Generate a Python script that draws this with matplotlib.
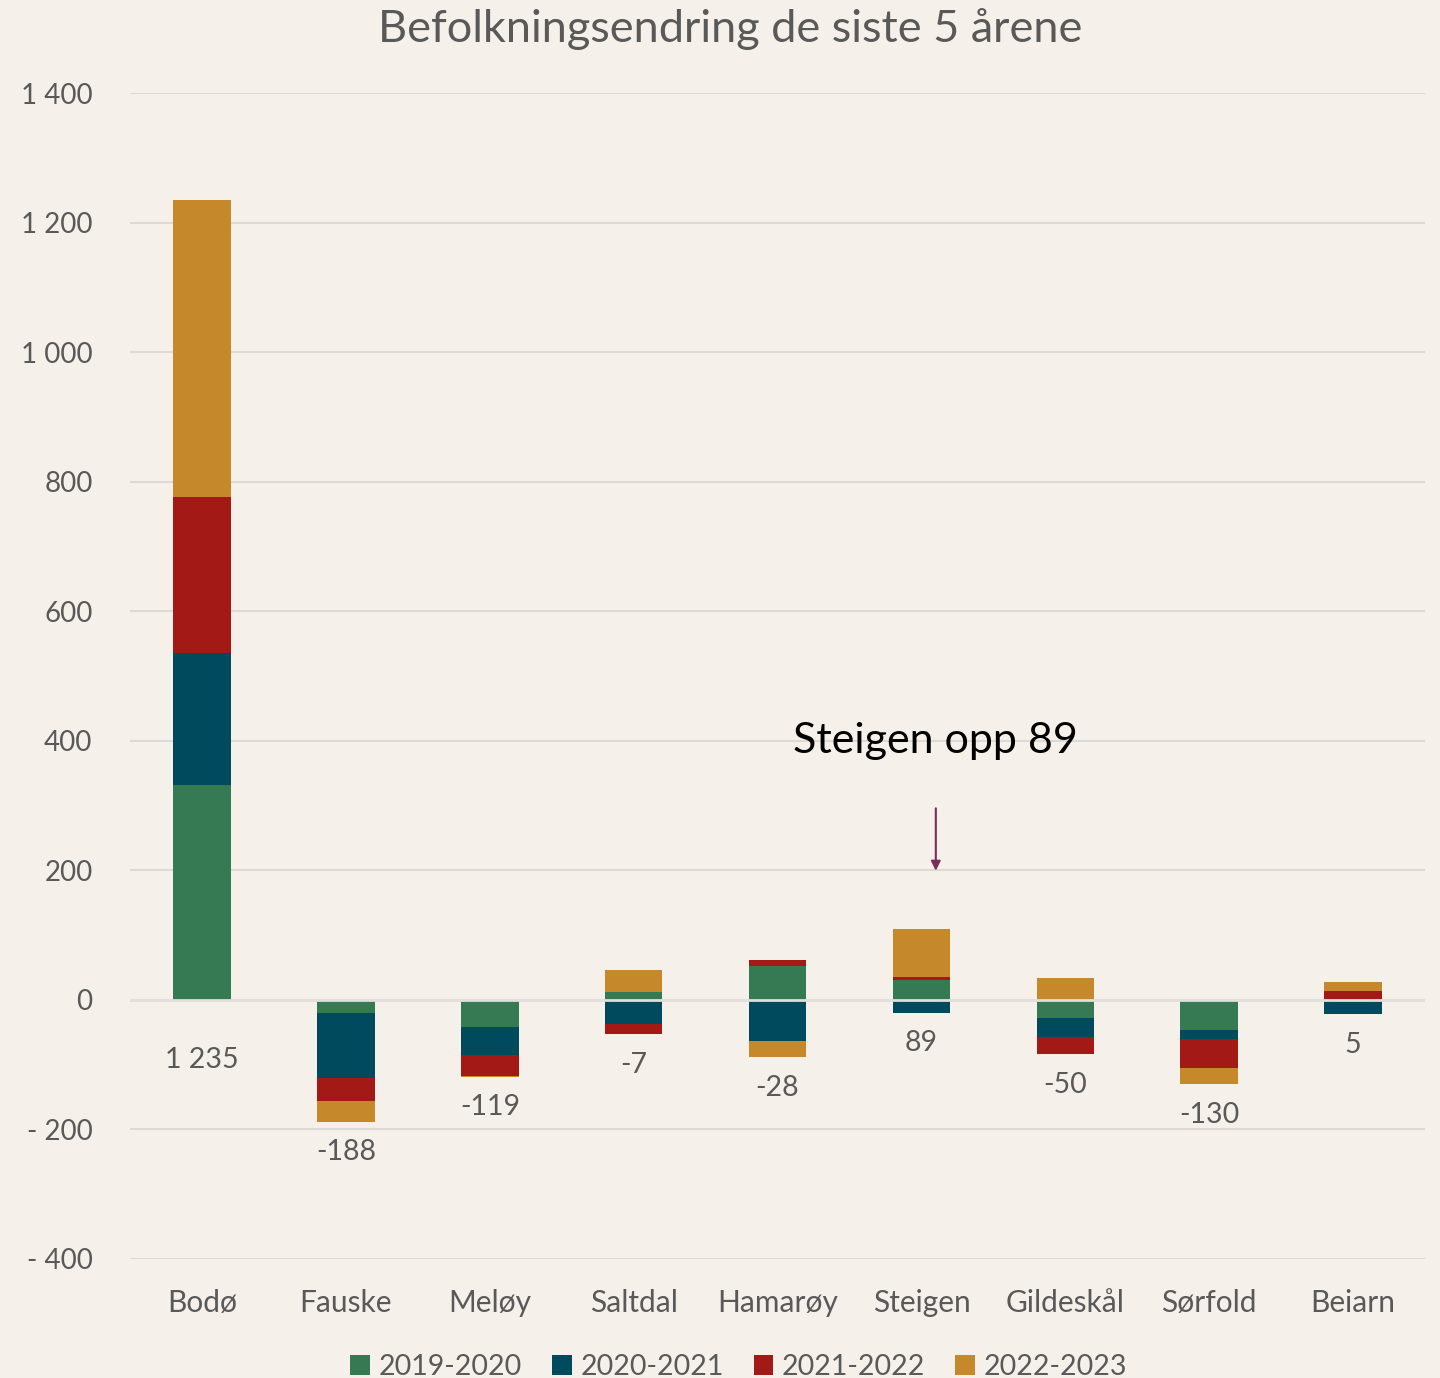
import matplotlib.pyplot as plt
import numpy as np
from matplotlib.ticker import FuncFormatter

# Kommuner og endring per år
kommuner = ["Bodø", "Fauske", "Meløy", "Saltdal", "Hamarøy", "Steigen", "Gildeskål", "Sørfold", "Beiarn"]
aar = ["2019-2020", "2020-2021", "2021-2022", "2022-2023"]
endr_2019_2020 = [332, -20, -42, 12, 53, 30, -28, -47, -2]
endr_2020_2021 = [203, -100, -43, -37, -63, -20, -30, -14, -20]
endr_2021_2022 = [242, -36, -32, -16, 8, 6, -26, -44, 13]
endr_2022_2023 = [458, -32, -2, 34, -26, 73, 34, -25, 14]
totaler = [1235, -188, -119, -7, -28, 89, -50, -130, 5]

farger = ["#367A53", "#004A5E", "#A31916", "#C5892B"]
bg = "#F6F0EA"
tekst = "#595959"

plt.rcParams['font.family'] = ['Lato', 'DejaVu Sans']

fig = plt.figure(figsize=(14.4, 13.78), dpi=100, facecolor=bg)
ax = fig.add_axes([0.0903, 0.0864, 0.8993, 0.8461])
ax.set_facecolor(bg)

x = np.arange(len(kommuner))
serier = [endr_2019_2020, endr_2020_2021, endr_2021_2022, endr_2022_2023]
pos_bunn = np.zeros(len(kommuner))
neg_bunn = np.zeros(len(kommuner))
for navn, verdier, farge in zip(aar, serier, farger):
    v = np.array(verdier, dtype=float)
    bunn = np.where(v >= 0, pos_bunn, neg_bunn)
    ax.bar(x, v, 0.40, bottom=bunn, color=farge, label=navn, zorder=2)
    pos_bunn += np.where(v >= 0, v, 0)
    neg_bunn += np.where(v < 0, v, 0)

# totaler under stolpene
for xi, nb, tot in zip(x, neg_bunn, totaler):
    off = -43 if nb == 0 else -22
    lbl = f"{tot:,}".replace(",", " ")
    ax.annotate(lbl, (xi, nb), xytext=(0, off), textcoords="offset points",
                ha="center", va="center", fontsize=20.5, color=tekst)

ax.axhline(0, color="#E2DEDB", lw=2, zorder=3)

ax.set_xlim(-0.5, len(kommuner) - 0.5)
ax.set_ylim(-400, 1400)
ax.set_yticks(np.arange(-400, 1401, 200))
ax.yaxis.set_major_formatter(FuncFormatter(
    lambda v, p: ("- " if v < 0 else "") + f"{abs(int(v)):,}".replace(",", " ")))
ax.grid(axis="y", color="#DDD9D6", lw=1.5, zorder=0)
ax.set_xticks(x)
ax.set_xticklabels(kommuner)
ax.tick_params(axis="both", length=0, labelsize=20, labelcolor=tekst)
ax.tick_params(axis="x", pad=22, labelsize=21.5)
ax.tick_params(axis="y", pad=27)
for s in ax.spines.values():
    s.set_visible(False)

fig.text(0.507, 0.979, "Befolkningsendring de siste 5 årene", ha="center", va="center",
         fontsize=32.5, color=tekst)

ax.text(5.1, 400, "Steigen opp 89", ha="center", va="center", fontsize=31, color="black")
ax.annotate("", xy=(5.1, 195), xytext=(5.1, 300),
            arrowprops=dict(arrowstyle="-|>", color="#7B2D5A", lw=1.5, mutation_scale=14))

ax.legend(loc="center", bbox_to_anchor=(0.47, -0.093), ncol=4, frameon=False,
          fontsize=20.5, labelcolor=tekst, handlelength=0.7, handleheight=0.7,
          handletextpad=0.3, columnspacing=1.05)

plt.savefig("out.png", dpi=100, facecolor=bg)
